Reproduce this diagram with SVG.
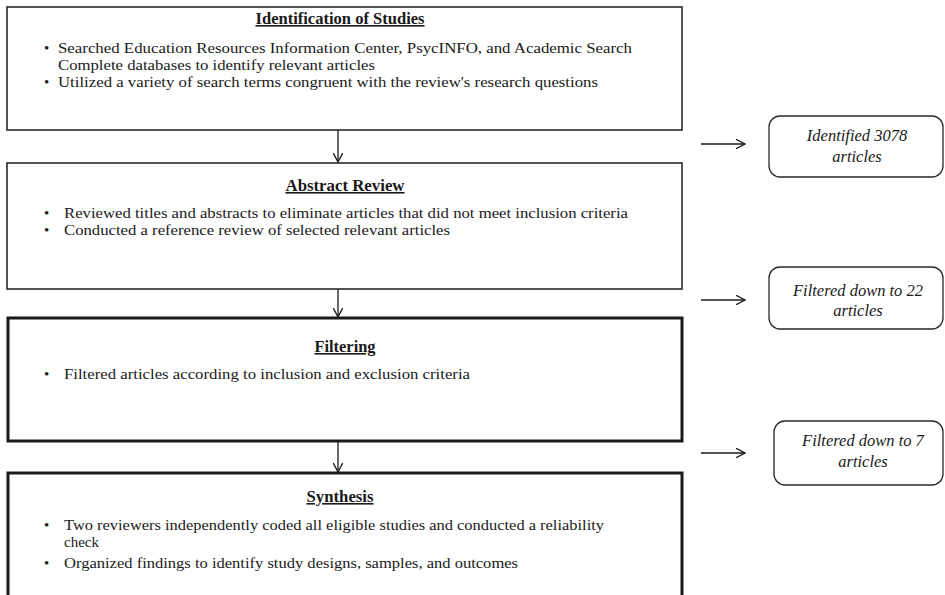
<svg xmlns="http://www.w3.org/2000/svg" width="945" height="595" viewBox="0 0 945 595">
<style>
text{font-family:"Liberation Serif","Times New Roman",serif;font-size:15px;fill:#1a1a1a}
.t{font-weight:bold;text-anchor:middle;text-decoration:underline;font-size:16px}
.i{font-style:italic;text-anchor:middle;font-size:16.5px}
.thin{fill:#fff;stroke:#2a2a2a;stroke-width:1.6}
.thick{fill:#fff;stroke:#1a1a1a;stroke-width:3}
.rb{fill:#fff;stroke:#2a2a2a;stroke-width:1.3}
.c{fill:none;stroke:#1a1a1a;stroke-width:1.3}
</style>
<defs>
<marker id="ah" viewBox="0 0 10 10" refX="9.5" refY="5" markerWidth="10" markerHeight="10" markerUnits="userSpaceOnUse" orient="auto">
<path d="M0,0 L9.5,5 L0,10" fill="none" stroke="#1a1a1a" stroke-width="1.3"/>
</marker>
</defs>
<g id="connectors">
<line class="c" x1="338" y1="130" x2="338" y2="162" marker-end="url(#ah)"/>
<line class="c" x1="338" y1="289" x2="338" y2="317" marker-end="url(#ah)"/>
<line class="c" x1="338" y1="442" x2="338" y2="472" marker-end="url(#ah)"/>
<line class="c" x1="701" y1="144" x2="745" y2="144" marker-end="url(#ah)"/>
<line class="c" x1="701" y1="300" x2="745" y2="300" marker-end="url(#ah)"/>
<line class="c" x1="701" y1="453" x2="745" y2="453" marker-end="url(#ah)"/>
</g>
<g id="identification">
<rect class="thin" x="7" y="7" width="675" height="123"/>
<text class="t" x="340" y="24" textLength="169" lengthAdjust="spacingAndGlyphs">Identification of Studies</text>
<text x="44" y="53">•</text>
<text x="58" y="53" textLength="574" lengthAdjust="spacingAndGlyphs">Searched Education Resources Information Center, PsycINFO, and Academic Search</text>
<text x="58" y="70" textLength="317" lengthAdjust="spacingAndGlyphs">Complete databases to identify relevant articles</text>
<text x="44" y="87">•</text>
<text x="58" y="87" textLength="540" lengthAdjust="spacingAndGlyphs">Utilized a variety of search terms congruent with the review's research questions</text>
</g>
<g id="abstract-review">
<rect class="thin" x="7" y="163" width="675" height="126"/>
<text class="t" x="345" y="191" textLength="119" lengthAdjust="spacingAndGlyphs">Abstract Review</text>
<text x="44" y="218">•</text>
<text x="64" y="218" textLength="564" lengthAdjust="spacingAndGlyphs">Reviewed titles and abstracts to eliminate articles that did not meet inclusion criteria</text>
<text x="44" y="235">•</text>
<text x="64" y="235" textLength="386" lengthAdjust="spacingAndGlyphs">Conducted a reference review of selected relevant articles</text>
</g>
<g id="filtering">
<rect class="thick" x="8" y="318" width="674" height="123"/>
<text class="t" x="345" y="352" textLength="61" lengthAdjust="spacingAndGlyphs">Filtering</text>
<text x="44" y="379">•</text>
<text x="64" y="379" textLength="406" lengthAdjust="spacingAndGlyphs">Filtered articles according to inclusion and exclusion criteria</text>
</g>
<g id="synthesis">
<rect class="thick" x="8" y="473" width="674" height="140"/>
<text class="t" x="340" y="502" textLength="67" lengthAdjust="spacingAndGlyphs">Synthesis</text>
<text x="44" y="530">•</text>
<text x="64" y="530" textLength="540" lengthAdjust="spacingAndGlyphs">Two reviewers independently coded all eligible studies and conducted a reliability</text>
<text x="64" y="547">check</text>
<text x="44" y="568">•</text>
<text x="64" y="568" textLength="454" lengthAdjust="spacingAndGlyphs">Organized findings to identify study designs, samples, and outcomes</text>
</g>
<g id="identified-3078">
<rect class="rb" x="769" y="116" width="174" height="61" rx="11"/>
<text class="i" x="857" y="141">Identified 3078</text>
<text class="i" x="857" y="162">articles</text>
</g>
<g id="filtered-22">
<rect class="rb" x="769" y="267" width="174" height="62" rx="11"/>
<text class="i" x="858" y="296">Filtered down to 22</text>
<text class="i" x="858" y="316">articles</text>
</g>
<g id="filtered-7">
<rect class="rb" x="774" y="421" width="169" height="64" rx="11"/>
<text class="i" x="863" y="446">Filtered down to 7</text>
<text class="i" x="863" y="467">articles</text>
</g>
</svg>
